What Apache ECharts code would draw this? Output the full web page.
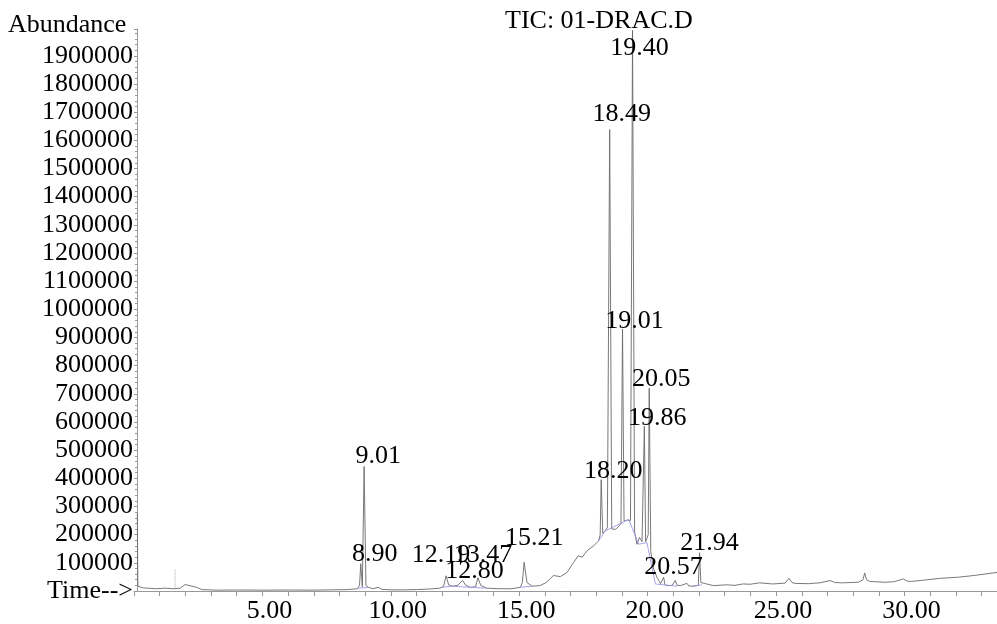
<!DOCTYPE html>
<html>
<head>
<meta charset="utf-8">
<script src="https://cdn.jsdelivr.net/npm/echarts@6/dist/echarts.min.js"></script>
<style>
html,body{margin:0;padding:0;background:#fff;}
#chart{width:997px;height:624px;}
</style>
</head>
<body>
<div id="chart"></div>
<script>
// ---- data ----
const traceTime = [0.13,0.15,0.36,0.88,1.2,1.53,1.8,1.99,2.25,2.44,2.64,3.22,4.0,5.04,6.0,7.0,7.64,8.3,8.7,
  8.78,8.83,8.89,8.92,8.96,9.03,9.13,9.3,9.5,9.65,10.0,10.5,11.0,11.5,11.9,12.05,12.15,12.25,12.38,12.6,12.79,12.92,13.09,13.3,13.39,13.5,13.74,14.2,14.7,15.04,15.12,15.19,15.3,15.5,15.8,
  16.05,16.33,16.6,16.86,17.11,17.3,17.37,17.45,17.64,17.89,18.09,18.15,18.19,18.25,18.34,18.43,18.52,18.6,18.75,18.9,18.96,19.02,19.08,19.2,19.26,19.33,19.41,19.49,19.58,19.68,19.78,19.83,19.87,19.92,19.98,20.02,20.06,20.12,20.23,20.36,20.5,20.57,20.62,20.67,20.75,20.95,21.07,21.15,21.27,21.53,21.6,21.79,21.97,22.02,22.07,22.11,22.3,22.56,23.08,23.4,23.7,24.0,24.35,24.87,25.35,25.5,25.62,25.74,26.26,26.7,27.1,27.3,27.55,28.2,28.38,28.45,28.52,28.65,29.24,29.6,29.95,30.1,30.27,30.79,31.4,32.1,32.7,33.6];
const traceAbund = [276000,17000,11000,8000,10000,8000,10000,23000,17000,13000,5000,3000,3500,3000,3500,3000,4000,5000,8000,
  20000,97000,15000,14000,442000,20000,13000,8000,13000,6000,4000,4000,5000,7000,10000,16000,54000,22000,17000,20000,37000,20000,13000,15000,47000,20000,10000,8000,8000,13000,30000,102000,30000,17000,19000,
  30000,55000,51000,66000,101000,125000,131000,120000,143000,160000,178000,200000,395000,205000,213000,225000,1638000,220000,219000,232000,240000,930000,248000,252000,254000,250000,1990000,210000,166000,190000,175000,180000,585000,175000,172000,200000,720000,140000,78000,49000,26000,23000,49000,23000,19000,20000,37000,20000,19000,27000,18000,17000,20000,136000,30000,31000,25000,19000,22000,20000,25000,24000,29000,25000,28000,45000,30000,27000,26000,29000,37000,30000,29000,31000,40000,64000,40000,34000,31000,33000,43000,35000,34000,39000,45000,49000,55000,66000];

// integration baselines (null = gap)
const baseTime  = [8.74,9.13,null,11.99,12.38,13.09,13.74,null,15.04,15.5,null,18.09,18.34,19.26,19.65,19.97,20.3,21.14,null,21.73,22.11];
const baseAbund = [10000,13000,null,13000,17000,13000,10000,null,13000,17000,null,178000,213000,254000,166000,172000,25000,17000,null,17000,22000];

const peakTime   = [8.83,8.96,12.15,12.79,13.39,15.19,18.19,18.52,19.02,19.41,19.87,20.06,20.62,22.02];
const peakAbund  = [97000,442000,54000,37000,47000,102000,395000,1638000,930000,1990000,585000,720000,49000,136000];
const peakLabel  = ['8.90','9.01','12.19','12.80','13.47','15.21','18.20','18.49','19.01','19.40','19.86','20.05','20.57','21.94'];

const markerTime = [1.6, 1.6];
const markerAbund = [8000, 79000];

const xTickLabels = ['5.00','10.00','15.00','20.00','25.00','30.00'];
const yTickLabels = ['100000','200000','300000','400000','500000','600000','700000','800000','900000','1000000','1100000','1200000','1300000','1400000','1500000','1600000','1700000','1800000','1900000'];

// label placement (pixels relative to peak apex) – layout only
const labelShift = [[14,-10],[14,-10],[-5,-21],[12,-9],[5,-23],[10,-24],[12,-9],[12,-15],[12,-8],[7,18],[13,-8],[12,-9],[10,-10],[10,-10]];

const FONT = 'Liberation Serif';
const chart = echarts.init(document.getElementById('chart'), null, {renderer:'canvas'});

const traceData = traceTime.map((t,i)=>[t, traceAbund[i]]);
const baseData = baseTime.map((t,i)=> t===null ? ['-','-'] : [t, baseAbund[i]]);
const peakData = peakTime.map((t,i)=>({
  value:[t, peakAbund[i]],
  label:{offset: labelShift[i], formatter: peakLabel[i]}
}));

chart.setOption({
  animation:false,
  backgroundColor:'#fff',
  title:[
    {text:'Abundance', left:8, top:12, padding:0, textStyle:{fontFamily:FONT, fontSize:26, fontWeight:'normal', color:'#000'}},
    {text:'TIC: 01-DRAC.D', left:505, top:8, padding:0, textStyle:{fontFamily:FONT, fontSize:26, fontWeight:'normal', color:'#000'}}
  ],
  grid:{left:134, right:0, top:29, bottom:28.5, containLabel:false},
  xAxis:{
    type:'value', min:0, max:33.6, interval:5,
    axisLine:{show:true, lineStyle:{color:'#999', width:1}},
    axisTick:{show:true, length:5, lineStyle:{color:'#999'}},
    minorTick:{show:true, splitNumber:5, length:5, lineStyle:{color:'#999'}},
    splitLine:{show:false},
    axisLabel:{
      margin:7, padding:[0,0,0,14], fontFamily:FONT, fontSize:26, color:'#000',
      showMinLabel:true, showMaxLabel:false,
      formatter:v=>{ const k = Math.round(v/5)-1; return (Math.abs(v/5-Math.round(v/5))<1e-6 && k>=0 && k<xTickLabels.length) ? xTickLabels[k] : ''; }
    }
  },
  yAxis:{
    type:'value', min:0, max:1995000, interval:100000, offset:-3,
    axisLine:{show:true, lineStyle:{color:'#999', width:1}},
    axisTick:{show:true, length:3, lineStyle:{color:'#999'}},
    minorTick:{show:true, splitNumber:5, length:2, lineStyle:{color:'#999'}},
    splitLine:{show:false},
    axisLabel:{
      margin:4, fontFamily:FONT, fontSize:26, color:'#000', showMaxLabel:false,
      formatter:v=>{ if(v===0) return 'Time-->'; const k=Math.round(v/100000)-1; return (v%100000===0 && k>=0 && k<yTickLabels.length) ? yTickLabels[k] : ''; }
    }
  },
  series:[
    {type:'line', data:traceData, showSymbol:false, symbol:'none', lineStyle:{color:'#6a6a6a', width:0.9}, z:2, silent:true},
    {type:'line', data:baseData, showSymbol:false, symbol:'none', connectNulls:false, lineStyle:{color:'#9a9ae8', width:0.9}, z:3, silent:true},
    {type:'line', data:markerTime.map((t,i)=>[t, markerAbund[i]]), showSymbol:false, symbol:'none', lineStyle:{color:'#aaa', width:1, type:'dotted'}, z:1, silent:true},
    {type:'scatter', data:peakData, symbolSize:1, itemStyle:{color:'rgba(0,0,0,0)', opacity:1}, z:4, silent:true,
      label:{show:true, position:'inside', fontFamily:FONT, fontSize:26, color:'#000', opacity:1, textBorderWidth:0}}
  ]
});
</script>
</body>
</html>
